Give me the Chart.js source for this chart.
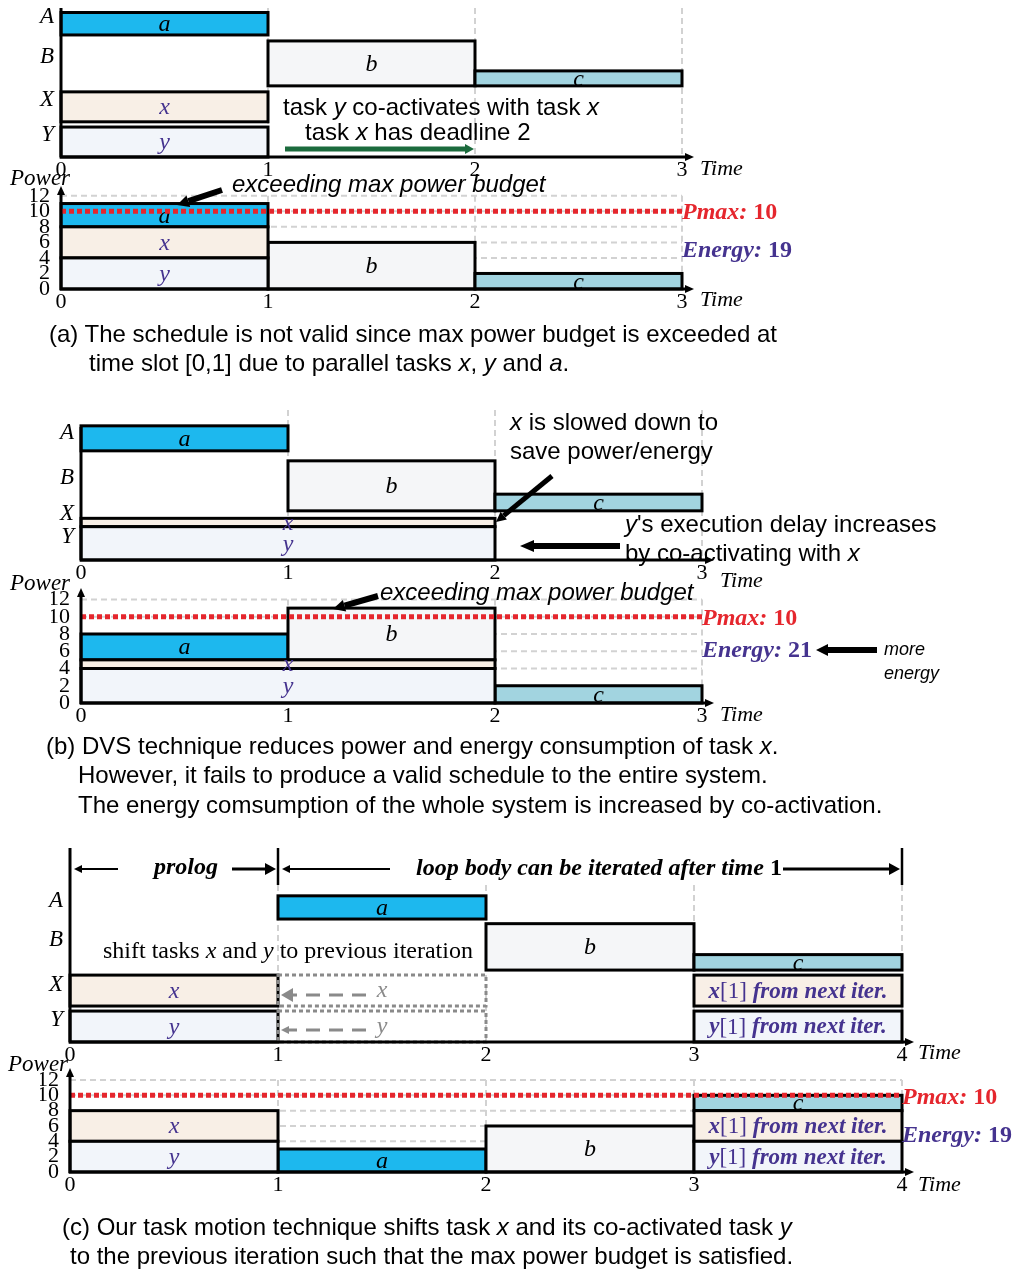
<!DOCTYPE html>
<html>
<head>
<meta charset="utf-8">
<script src="https://cdn.jsdelivr.net/npm/chart.js@4.4.0/dist/chart.umd.min.js"></script>
<style>
  body { margin: 0; background: #fff; }
  #page { position: relative; width: 1019px; height: 1271px; overflow: hidden; }
  canvas { position: absolute; left: 0; top: -40px; }
  .t { position: absolute; white-space: nowrap; transform: translateY(-50%); line-height: 1; }
  .s { font-family: "Liberation Sans", Arial, sans-serif; font-size: 24px; }
  .r { font-family: "Liberation Serif", "Times New Roman", serif; }
  .it { font-style: italic; }
  .b { font-weight: bold; }
  .red { color: #e5262d; }
  .pur { color: #45338f; }
</style>
</head>
<body>
<div id="page">
  <canvas id="schedA" width="1019" height="1311"></canvas>
  <canvas id="powerA" width="1019" height="1311"></canvas>
  <canvas id="schedB" width="1019" height="1311"></canvas>
  <canvas id="powerB" width="1019" height="1311"></canvas>
  <canvas id="schedC" width="1019" height="1311"></canvas>
  <canvas id="powerC" width="1019" height="1311"></canvas>

  <!-- (a) -->
  <div class="t s" style="left:283px;top:107px">task <i>y</i> co-activates with task <i>x</i></div>
  <div class="t s" style="left:305px;top:132px">task <i>x</i> has deadline 2</div>
  <div class="t r it" style="left:700px;top:168px;font-size:22px">Time</div>
  <div class="t r it" style="left:10px;top:177px;font-size:23px">Power</div>
  <div class="t s it" style="left:232px;top:184px">exceeding max power budget</div>
  <div class="t r b red" style="left:682px;top:211px;font-size:24px"><i>Pmax:</i> <span id="pmaxA"></span></div>
  <div class="t r b pur" style="left:682px;top:249px;font-size:24px"><i>Energy:</i> <span id="energyA"></span></div>
  <div class="t r it" style="left:700px;top:299px;font-size:22px">Time</div>
  <div class="t s" style="left:49px;top:334px">(a) The schedule is not valid since max power budget is exceeded at</div>
  <div class="t s" style="left:89px;top:363px">time slot [0,1] due to parallel tasks <i>x</i>, <i>y</i> and <i>a</i>.</div>

  <!-- (b) -->
  <div class="t s" style="left:510px;top:422px"><i>x</i> is slowed down to</div>
  <div class="t s" style="left:510px;top:451px">save power/energy</div>
  <div class="t s" style="left:625px;top:524px"><i>y</i>'s execution delay increases</div>
  <div class="t s" style="left:625px;top:553px">by co-activating with <i>x</i></div>
  <div class="t r it" style="left:720px;top:580px;font-size:22px">Time</div>
  <div class="t r it" style="left:10px;top:582px;font-size:23px">Power</div>
  <div class="t s it" style="left:380px;top:592px">exceeding max power budget</div>
  <div class="t r b red" style="left:702px;top:617px;font-size:24px"><i>Pmax:</i> <span id="pmaxB"></span></div>
  <div class="t r b pur" style="left:702px;top:649px;font-size:24px"><i>Energy:</i> <span id="energyB"></span></div>
  <div class="t s it" style="left:884px;top:649px;font-size:18px">more</div>
  <div class="t s it" style="left:884px;top:673px;font-size:18px">energy</div>
  <div class="t r it" style="left:720px;top:714px;font-size:22px">Time</div>
  <div class="t s" style="left:46px;top:746px">(b) DVS technique reduces power and energy consumption of task <i>x</i>.</div>
  <div class="t s" style="left:78px;top:775px">However, it fails to produce a valid schedule to the entire system.</div>
  <div class="t s" style="left:78px;top:805px">The energy comsumption of the whole system is increased by co-activation.</div>

  <!-- (c) -->
  <div class="t r it b" style="left:154px;top:866px;font-size:24px">prolog</div>
  <div class="t r it b" style="left:416px;top:867px;font-size:24px">loop body can be iterated after time <span style="font-style:normal">1</span></div>
  <div class="t r" style="left:103px;top:950px;font-size:24px">shift tasks <i>x</i> and <i>y</i> to previous iteration</div>
  <div class="t r it" style="left:918px;top:1052px;font-size:22px">Time</div>
  <div class="t r it" style="left:8px;top:1063px;font-size:23px">Power</div>
  <div class="t r b red" style="left:902px;top:1096px;font-size:24px"><i>Pmax:</i> <span id="pmaxC"></span></div>
  <div class="t r b pur" style="left:902px;top:1134px;font-size:24px"><i>Energy:</i> <span id="energyC"></span></div>
  <div class="t r it" style="left:918px;top:1184px;font-size:22px">Time</div>
  <div class="t s" style="left:62px;top:1227px">(c) Our task motion technique shifts task <i>x</i> and its co-activated task <i>y</i></div>
  <div class="t s" style="left:70px;top:1256px">to the previous iteration such that the max power budget is satisfied.</div>
</div>

<script>
// ---------- data ----------
const timeTicks3 = [0, 1, 2, 3];
const timeTicks4 = [0, 1, 2, 3, 4];
const powerTicks = [0, 2, 4, 6, 8, 10, 12];
const pmax = 10;

// (a) first schedule
const tasksA  = ['a', 'b', 'c', 'x', 'y'];
const rowsA   = ['A', 'B', 'B', 'X', 'Y'];
const startA  = [0, 1, 2, 0, 0];
const endA    = [1, 2, 3, 1, 1];
const powerA  = [3, 6, 2, 4, 4];
const levelA  = [8, 0, 0, 4, 0];   // power the task sits on in the power plot
const energyA = 19;

// (b) DVS, x slowed down
const tasksB  = ['a', 'b', 'c', 'x', 'y'];
const rowsB   = ['A', 'B', 'B', 'X', 'Y'];
const startB  = [0, 1, 2, 0, 0];
const endB    = [1, 2, 3, 2, 2];
const powerB  = [3, 6, 2, 1, 4];
const levelB  = [5, 5, 0, 4, 0];
const energyB = 21;

// (c) task motion
const tasksC  = ['a', 'b', 'c', 'x', 'y', 'x[1]', 'y[1]'];
const rowsC   = ['A', 'B', 'B', 'X', 'Y', 'X', 'Y'];
const startC  = [1, 2, 3, 0, 0, 3, 3];
const endC    = [2, 3, 4, 1, 1, 4, 4];
const powerC  = [3, 6, 2, 4, 4, 4, 4];
const levelC  = [0, 0, 8, 4, 0, 4, 0];
const energyC = 19;
// old slots of x and y before they were shifted
const movedC      = ['x', 'y'];
const movedRowsC  = ['X', 'Y'];
const movedStartC = [1, 1];
const movedEndC   = [2, 2];
const movedPowerC = [4, 4];

// ---------- styling ----------
const COLORS = { a: '#1db8ee', b: '#f5f6f8', c: '#a2d4e0', x: '#f8efe6', y: '#f2f5fa' };
const PURPLE = '#45338f';
const RED = '#e5262d';
const GRID = '#d2d2d2';
const GHOST = '#8a8a8a';
const SERIF = '"Liberation Serif", "Times New Roman", serif';
const Y_W = 30, X_H = 30;
const OFF = 40;            // canvases start 40px above the page
const CH = 1271 + OFF;

document.getElementById('pmaxA').textContent = pmax;
document.getElementById('pmaxB').textContent = pmax;
document.getElementById('pmaxC').textContent = pmax;
document.getElementById('energyA').textContent = energyA;
document.getElementById('energyB').textContent = energyB;
document.getElementById('energyC').textContent = energyC;

function scheduleBoxes(names, rows, start, end, power, base) {
  return names.map((n, i) => ({ x: start[i], y: base[rows[i]], x2: end[i], y2: base[rows[i]] + power[i], name: n }));
}
function powerBoxes(names, start, end, power, level) {
  return names.map((n, i) => ({ x: start[i], y: level[i], x2: end[i], y2: level[i] + power[i], name: n }));
}

function arrow(ctx, x1, y1, x2, y2, o) {
  o = Object.assign({ w: 5, head: 12, hw: 8, color: '#000', dash: null }, o);
  const ang = Math.atan2(y2 - y1, x2 - x1);
  const bx = x2 - Math.cos(ang) * o.head, by = y2 - Math.sin(ang) * o.head;
  ctx.save();
  ctx.strokeStyle = o.color; ctx.fillStyle = o.color; ctx.lineWidth = o.w;
  if (o.dash) ctx.setLineDash(o.dash);
  ctx.beginPath(); ctx.moveTo(x1, y1); ctx.lineTo(bx, by); ctx.stroke();
  ctx.setLineDash([]);
  ctx.beginPath();
  ctx.moveTo(x2, y2);
  ctx.lineTo(bx + Math.sin(ang) * o.hw, by - Math.cos(ang) * o.hw);
  ctx.lineTo(bx - Math.sin(ang) * o.hw, by + Math.cos(ang) * o.hw);
  ctx.closePath(); ctx.fill();
  ctx.restore();
}
function line(ctx, x1, y1, x2, y2) {
  ctx.beginPath(); ctx.moveTo(x1, y1); ctx.lineTo(x2, y2); ctx.stroke();
}

function drawLabel(ctx, name, cx, cy, color) {
  ctx.textBaseline = 'middle';
  if (name.includes('[')) {
    const bi = 'italic bold 23px ' + SERIF, rg = '23px ' + SERIF;
    const parts = [[name[0], bi], [name.slice(1), rg], [' from next iter.', bi]];
    let total = 0;
    parts.forEach(p => { ctx.font = p[1]; p.push(ctx.measureText(p[0]).width); total += p[2]; });
    let px = cx - total / 2;
    ctx.fillStyle = PURPLE; ctx.textAlign = 'left';
    parts.forEach(p => { ctx.font = p[1]; ctx.fillText(p[0], px, cy); px += p[2]; });
  } else {
    ctx.font = 'italic 24px ' + SERIF;
    ctx.textAlign = 'center';
    ctx.fillStyle = color || ((name === 'x' || name === 'y') ? PURPLE : '#000');
    ctx.fillText(name, cx, cy);
  }
}

function boxPlugin(cfg) {
  return {
    id: 'boxes',
    beforeDatasetsDraw(chart) {
      const { ctx, chartArea: ca, scales: { x, y } } = chart;
      ctx.save();
      ctx.strokeStyle = GRID; ctx.lineWidth = 2; ctx.setLineDash([6, 4]);
      const vTop = cfg.power ? y.getPixelForValue(12) : ca.top;
      cfg.xTicks.forEach(v => { if (v > 0) { const px = x.getPixelForValue(v); line(ctx, px, vTop, px, ca.bottom); } });
      if (cfg.power) {
        powerTicks.forEach(v => { if (v > 0) { const py = y.getPixelForValue(v); line(ctx, ca.left, py, ca.right, py); } });
      }
      ctx.restore();

      const labels = [];
      chart.data.datasets.forEach(ds => ds.data.forEach(d => {
        const l = x.getPixelForValue(d.x), r = x.getPixelForValue(d.x2);
        const b = y.getPixelForValue(d.y), t = y.getPixelForValue(d.y2);
        ctx.save();
        if (ds.ghost) {
          ctx.strokeStyle = GHOST; ctx.lineWidth = 3; ctx.setLineDash([4, 3]);
          ctx.strokeRect(l, t, r - l, b - t);
          drawLabel(ctx, d.name, (l + r) / 2, (t + b) / 2, GHOST);
        } else {
          ctx.fillStyle = COLORS[d.name[0]];
          ctx.fillRect(l, t, r - l, b - t);
          if ('abc'.includes(d.name)) {
            // black task names get cut by their box
            ctx.save();
            ctx.beginPath(); ctx.rect(l, t, r - l, b - t); ctx.clip();
            drawLabel(ctx, d.name, (l + r) / 2, (t + b) / 2 + 1);
            ctx.restore();
          } else {
            labels.push([d.name, (l + r) / 2, (t + b) / 2 + 1]);
          }
          ctx.strokeStyle = '#000'; ctx.lineWidth = 3;
          ctx.strokeRect(l, t, r - l, b - t);
        }
        ctx.restore();
      }));
      ctx.save();
      labels.forEach(p => drawLabel(ctx, p[0], p[1], p[2]));
      ctx.restore();
    },
    afterDatasetsDraw(chart) {
      const { ctx, chartArea: ca, scales: { x, y } } = chart;
      if (cfg.power) {
        ctx.save();
        ctx.strokeStyle = RED; ctx.lineWidth = 5; ctx.setLineDash([5, 3]);
        const py = y.getPixelForValue(pmax);
        line(ctx, ca.left, py, ca.right, py);
        ctx.restore();
      }
      ctx.save();
      ctx.strokeStyle = '#000'; ctx.lineWidth = 3;
      if (cfg.power) arrow(ctx, ca.left, ca.bottom + 1, ca.left, ca.top - 2, { w: 3, head: 9, hw: 4 });
      else line(ctx, ca.left, ca.bottom, ca.left, cfg.axisTop ? cfg.axisTop + OFF : ca.top);
      arrow(ctx, ca.left - 1, ca.bottom, ca.right + 12, ca.bottom, { w: 3, head: 9, hw: 4 });
      ctx.restore();
      if (cfg.extras) {
        // annotations are given in page coordinates
        ctx.save();
        ctx.translate(0, OFF);
        cfg.extras(ctx);
        ctx.restore();
      }
    }
  };
}

function makeChart(id, cfg) {
  const a = cfg.area;
  const yLabels = new Map((cfg.yTicks).map((v, i) => [v, cfg.yNames ? cfg.yNames[i] : String(v)]));
  const datasets = [{ data: cfg.boxes, pointRadius: 0 }];
  if (cfg.ghosts) datasets.push({ data: cfg.ghosts, pointRadius: 0, ghost: true });
  return new Chart(document.getElementById(id), {
    type: 'scatter',
    data: { datasets },
    options: {
      responsive: false,
      animation: false,
      events: [],
      layout: { padding: { left: a.left - Y_W, top: a.top + OFF, right: 1019 - a.right, bottom: CH - (a.bottom + OFF) - X_H } },
      plugins: { legend: { display: false }, tooltip: { enabled: false } },
      scales: {
        x: {
          type: 'linear', min: 0, max: cfg.xTicks[cfg.xTicks.length - 1],
          grid: { display: false, drawTicks: false }, border: { display: false },
          afterBuildTicks: s => { s.ticks = cfg.xTicks.map(v => ({ value: v })); },
          afterFit: s => { s.height = X_H; },
          ticks: { color: '#000', font: { family: SERIF, size: 22 }, padding: 0, autoSkip: false, maxRotation: 0 }
        },
        y: {
          type: 'linear', min: 0, max: cfg.yMax,
          grid: { display: false, drawTicks: false }, border: { display: false },
          afterBuildTicks: s => { s.ticks = cfg.yTicks.map(v => ({ value: v })); },
          afterFit: s => { s.width = Y_W; },
          ticks: {
            color: '#000', autoSkip: false, padding: cfg.power ? 11 : 7,
            font: cfg.power ? { family: SERIF, size: 22 } : { family: SERIF, size: 23, style: 'italic' },
            callback: v => yLabels.get(v)
          }
        }
      }
    },
    plugins: [boxPlugin(cfg)]
  });
}

// ---------- (a) ----------
const baseA = { Y: 0, X: 4.7, B: 9.5, A: 16.3 };
makeChart('schedA', {
  area: { left: 61, top: 8, right: 682, bottom: 157 }, yMax: 19.9,
  xTicks: timeTicks3, yTicks: [18.7, 13.3, 7.6, 2.9], yNames: ['A', 'B', 'X', 'Y'],
  boxes: scheduleBoxes(tasksA, rowsA, startA, endA, powerA, baseA),
  extras: ctx => arrow(ctx, 285, 149, 474, 149, { w: 5, color: '#1c6b3d', head: 9, hw: 5 })
});
makeChart('powerA', {
  power: true, area: { left: 61, top: 188, right: 682, bottom: 289 }, yMax: 13,
  xTicks: timeTicks3, yTicks: powerTicks,
  boxes: powerBoxes(tasksA, startA, endA, powerA, levelA),
  extras: ctx => arrow(ctx, 222, 190, 177, 205, { w: 6, head: 12, hw: 6 })
});

// ---------- (b) ----------
const baseB = { Y: 0, X: 4, B: 5.9, A: 13.1 };
makeChart('schedB', {
  area: { left: 81, top: 410, right: 702, bottom: 560 }, yMax: 18, axisTop: 427,
  xTicks: timeTicks3, yTicks: [15.3, 9.9, 5.5, 2.8], yNames: ['A', 'B', 'X', 'Y'],
  boxes: scheduleBoxes(tasksB, rowsB, startB, endB, powerB, baseB),
  extras: ctx => {
    arrow(ctx, 552, 476, 496, 522, { w: 5, head: 10, hw: 5 });
    arrow(ctx, 620, 546, 520, 546, { w: 6, head: 14, hw: 6 });
  }
});
makeChart('powerB', {
  power: true, area: { left: 81, top: 590, right: 702, bottom: 703 }, yMax: 13.1,
  xTicks: timeTicks3, yTicks: powerTicks,
  boxes: powerBoxes(tasksB, startB, endB, powerB, levelB),
  extras: ctx => {
    arrow(ctx, 378, 596, 333, 609, { w: 6, head: 12, hw: 6 });
    arrow(ctx, 877, 650, 816, 650, { w: 6, head: 12, hw: 6 });
  }
});

// ---------- (c) ----------
const baseC = { Y: 0, X: 4.65, B: 9.3, A: 15.9 };
makeChart('schedC', {
  area: { left: 70, top: 885, right: 902, bottom: 1042 }, yMax: 20.3, axisTop: 848,
  xTicks: timeTicks4, yTicks: [18.2, 13.2, 7.4, 2.8], yNames: ['A', 'B', 'X', 'Y'],
  boxes: scheduleBoxes(tasksC, rowsC, startC, endC, powerC, baseC),
  ghosts: scheduleBoxes(movedC, movedRowsC, movedStartC, movedEndC, movedPowerC, baseC),
  extras: ctx => {
    ctx.save();
    ctx.strokeStyle = '#000'; ctx.lineWidth = 2.5;
    line(ctx, 278, 848, 278, 885);
    line(ctx, 902, 848, 902, 885);
    ctx.restore();
    arrow(ctx, 118, 869, 74, 869, { w: 2, head: 8, hw: 4 });
    arrow(ctx, 232, 869, 276, 869, { w: 3, head: 11, hw: 6 });
    arrow(ctx, 390, 869, 282, 869, { w: 2, head: 8, hw: 4 });
    arrow(ctx, 783, 869, 900, 869, { w: 3, head: 11, hw: 6 });
    arrow(ctx, 366, 995, 281, 995, { w: 3, head: 12, hw: 7, color: GHOST, dash: [14, 9] });
    arrow(ctx, 366, 1030, 281, 1030, { w: 3, head: 8, hw: 4, color: GHOST, dash: [14, 9] });
  }
});
makeChart('powerC', {
  power: true, area: { left: 70, top: 1070, right: 902, bottom: 1172 }, yMax: 13.3,
  xTicks: timeTicks4, yTicks: powerTicks,
  boxes: powerBoxes(tasksC, startC, endC, powerC, levelC)
});
</script>
</body>
</html>
